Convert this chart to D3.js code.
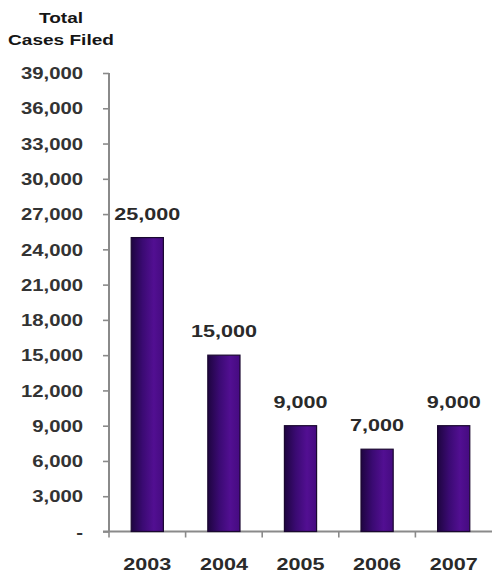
<!DOCTYPE html>
<html>
<head>
<meta charset="utf-8">
<script src="https://cdn.jsdelivr.net/npm/d3@7/dist/d3.min.js"></script>
<style>
  html, body { margin: 0; padding: 0; background: #fff; }
  svg { display: block; }
</style>
</head>
<body>
<script>
// Cases filed per year
const years = ["2003", "2004", "2005", "2006", "2007"];
const cases = [25000, 15000, 9000, 7000, 9000];
const yTicks = [0, 3000, 6000, 9000, 12000, 15000, 18000, 21000, 24000, 27000, 30000, 33000, 36000, 39000];
const titleLines = ["Total", "Cases Filed"];

const W = 492, H = 575;
const plot = { left: 109, right: 492, top: 73, bottom: 531.5 };
const FONT = "'Liberation Sans', Arial, sans-serif";
const WIDEN = 1.27; // lettering is set wide

const svg = d3.select("body").append("svg")
  .attr("width", W).attr("height", H);

// Bar fill: dark at the left edge, brighter violet toward the right
const defs = svg.append("defs");
const grad = defs.append("linearGradient")
  .attr("id", "barFill").attr("x1", "0%").attr("x2", "100%").attr("y1", "0%").attr("y2", "0%");
[["0%", "#1e0540"], ["35%", "#3a0a72"], ["70%", "#520f92"], ["100%", "#450b80"]]
  .forEach(([o, c]) => grad.append("stop").attr("offset", o).attr("stop-color", c));

const x = d3.scaleBand()
  .domain(years)
  .range([plot.left, plot.right])
  .paddingInner(0.58)
  .paddingOuter(0.29);

const y = d3.scaleLinear()
  .domain([0, 39000])
  .range([plot.bottom, plot.top]);

// Wide bold label placed at (px, py)
function wideText(sel, px, py, size, color) {
  return sel
    .attr("x", 0).attr("y", 0)
    .attr("transform", (d, i) => `translate(${px(d, i)},${py(d, i)}) scale(${WIDEN},1)`)
    .attr("font-family", FONT)
    .attr("font-weight", "bold")
    .attr("font-size", size)
    .attr("fill", color);
}

// Title
wideText(
  svg.append("g").selectAll("text").data(titleLines).join("text")
    .attr("text-anchor", "middle").text(d => d),
  () => 61, (d, i) => 23 + i * 22, 15, "#151515");

// Y axis
const yAxis = d3.axisLeft(y)
  .tickValues(yTicks)
  .tickSize(6)
  .tickPadding(20)
  .tickFormat(d => d === 0 ? "-" : d3.format(",")(d));

const gy = svg.append("g")
  .attr("transform", `translate(${plot.left},0)`)
  .call(yAxis);
gy.select(".domain").remove();
gy.selectAll(".tick line").attr("stroke", "#8a8a8a").attr("stroke-width", 1.6);
wideText(gy.selectAll(".tick text").attr("dy", null).attr("dominant-baseline", "central"),
  () => -26, () => 0, 16, "#333");
gy.append("line")
  .attr("x1", 0).attr("x2", 0)
  .attr("y1", plot.top).attr("y2", plot.bottom)
  .attr("stroke", "#8a8a8a").attr("stroke-width", 2);

// X axis baseline with tick marks between categories
const gx = svg.append("g");
gx.append("line")
  .attr("x1", plot.left - 6).attr("x2", plot.right)
  .attr("y1", plot.bottom).attr("y2", plot.bottom)
  .attr("stroke", "#8a8a8a").attr("stroke-width", 2);
const step = x.step();
gx.selectAll("line.sep")
  .data(years)
  .join("line")
  .attr("class", "sep")
  .attr("x1", (d, i) => plot.left + i * step)
  .attr("x2", (d, i) => plot.left + i * step)
  .attr("y1", plot.bottom).attr("y2", plot.bottom + 6)
  .attr("stroke", "#8a8a8a").attr("stroke-width", 1.6);
wideText(
  gx.selectAll("text").data(years).join("text")
    .attr("text-anchor", "middle").text(d => d),
  d => x(d) + x.bandwidth() / 2, () => 570, 17, "#2a2a2a");

// Bars
const data = years.map((yr, i) => ({ year: yr, value: cases[i] }));
svg.append("g").selectAll("rect")
  .data(data)
  .join("rect")
  .attr("x", d => x(d.year))
  .attr("y", d => y(d.value))
  .attr("width", x.bandwidth())
  .attr("height", d => y(0) - y(d.value))
  .attr("fill", "url(#barFill)")
  .attr("stroke", "#1a0830")
  .attr("stroke-width", 1.2);

// Value labels
wideText(
  svg.append("g").selectAll("text").data(data).join("text")
    .attr("text-anchor", "middle").text(d => d3.format(",")(d.value)),
  d => x(d.year) + x.bandwidth() / 2, d => y(d.value) - 18, 17, "#2a2a2a");
</script>
</body>
</html>
